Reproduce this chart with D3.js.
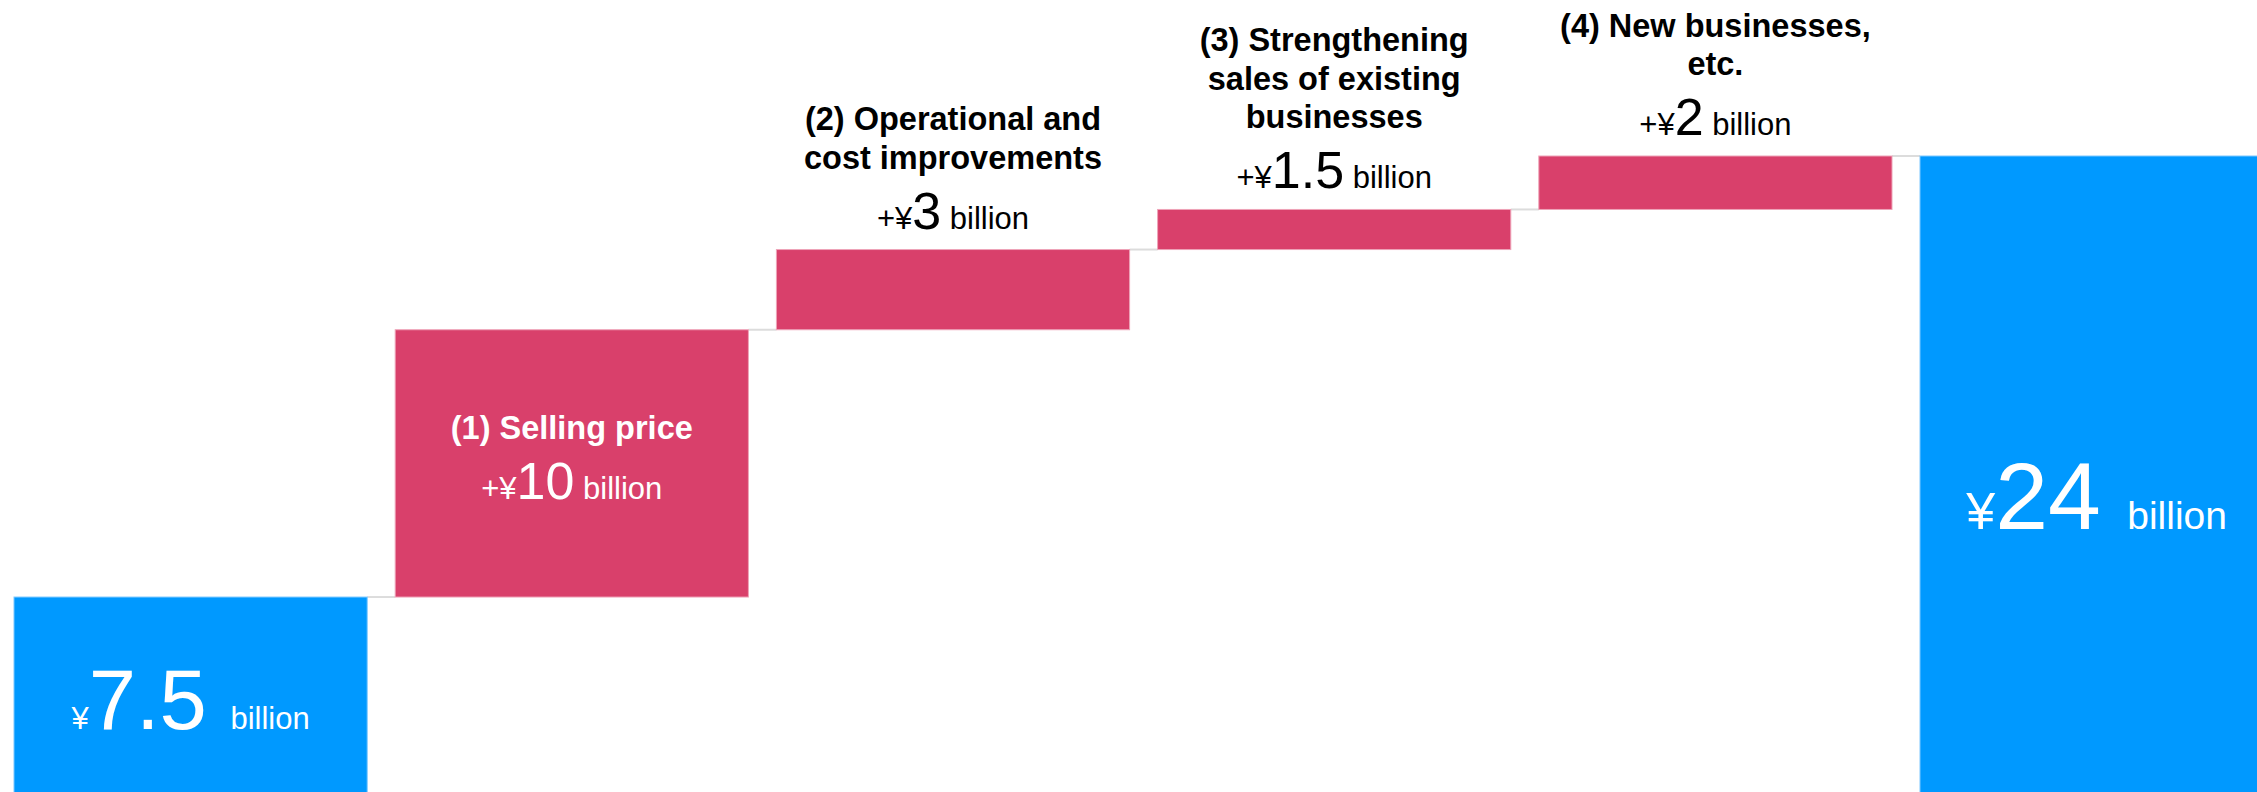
<!DOCTYPE html>
<html>
<head>
<meta charset="utf-8">
<script src="https://cdn.jsdelivr.net/npm/d3@7"></script>
<style>
  body { margin: 0; background: #fff; }
  svg { display: block; font-family: "Liberation Sans", Arial, sans-serif; }
</style>
</head>
<body>
<div id="chart"></div>
<script>
// waterfall data
var steps = ["FY start", "(1)", "(2)", "(3)", "(4)", "Target"];
var kinds = ["total", "delta", "delta", "delta", "delta", "total"];
var values = [7.5, 10, 3, 1.5, 2, 24];
var titles = [
  [],
  ["(1) Selling price"],
  ["(2) Operational and", "cost improvements"],
  ["(3) Strengthening", "sales of existing", "businesses"],
  ["(4) New businesses,", "etc."],
  []
];
var unit = "billion";

var width = 2257, height = 792;

var svg = d3.select("#chart")
  .append("svg")
  .attr("width", width)
  .attr("height", height);

// running start / end of each bar
var rows = [];
var run = 0;
values.forEach(function (v, i) {
  var r = { i: i, key: steps[i], kind: kinds[i], value: v, titles: titles[i] };
  if (kinds[i] == "total") {
    r.y0 = 0; r.y1 = v; run = v;
  } else {
    r.y0 = run; r.y1 = run + v; run = run + v;
  }
  rows.push(r);
});

var step = 381.2, pad = 28;
var x = d3.scaleBand()
  .domain(steps)
  .range([14, 14 + step * steps.length - pad])
  .paddingInner(pad / step)
  .paddingOuter(0);

var y = d3.scaleLinear()
  .domain([0, 24])
  .range([797.5, 156]);

var blue = "#0099ff", red = "#d9406b";

// connectors
svg.append("g")
  .selectAll("line")
  .data(rows.slice(0, -1))
  .enter().append("line")
  .attr("x1", function (d) { return x(d.key) + x.bandwidth(); })
  .attr("x2", function (d) { return x(steps[d.i + 1]); })
  .attr("y1", function (d) { return y(d.y1); })
  .attr("y2", function (d) { return y(d.y1); })
  .attr("stroke", "#dcdcdc")
  .attr("stroke-width", 2);

// bars
svg.append("g")
  .selectAll("rect")
  .data(rows)
  .enter().append("rect")
  .attr("x", function (d) { return x(d.key); })
  .attr("y", function (d) { return y(d.y1); })
  .attr("width", x.bandwidth())
  .attr("height", function (d) { return y(d.y0) - y(d.y1); })
  .attr("fill", function (d) { return d.kind == "total" ? blue : red; })
  .attr("stroke", function (d) { return d.kind == "total" ? "#7cc8ff" : "#eea3b8"; })
  .attr("stroke-width", 1);

// total labels
var totalStyle = [
  { yen: 31, num: 85, unit: 31, off: 32 },
  { yen: 52, num: 95, unit: 39, off: 52 }
];
var totals = rows.filter(function (d) { return d.kind == "total"; });
totals.forEach(function (d, k) {
  var s = totalStyle[k];
  var t = svg.append("text")
    .attr("x", x(d.key) + x.bandwidth() / 2)
    .attr("y", (y(d.y0) + y(d.y1)) / 2 + s.off)
    .attr("text-anchor", "middle")
    .attr("fill", "#fff");
  t.append("tspan").style("font-size", s.yen + "px").text("¥");
  t.append("tspan").style("font-size", s.num + "px").text(d.value + " ");
  t.append("tspan").style("font-size", s.unit + "px").text(unit);
});

// delta labels
var deltas = rows.filter(function (d) { return d.kind == "delta"; });
deltas.forEach(function (d) {
  var cx = x(d.key) + x.bandwidth() / 2;
  var inside = (y(d.y0) - y(d.y1)) > 150;
  var valueY, color;
  if (inside) {
    valueY = (y(d.y0) + y(d.y1)) / 2 + 36;
    color = "#fff";
  } else {
    valueY = y(d.y1) - 21;
    color = "#000";
  }
  var v = svg.append("text")
    .attr("x", cx)
    .attr("y", valueY)
    .attr("text-anchor", "middle")
    .attr("fill", color);
  v.append("tspan").style("font-size", "31px").text("+¥");
  v.append("tspan").style("font-size", "52px").text(d.value);
  v.append("tspan").style("font-size", "31px").text(" " + unit);

  var n = d.titles.length;
  svg.append("g")
    .selectAll("text")
    .data(d.titles)
    .enter().append("text")
    .attr("x", cx)
    .attr("y", function (line, j) { return valueY - 60 - (n - 1 - j) * 38.5; })
    .attr("text-anchor", "middle")
    .attr("fill", color)
    .style("font-size", "32.5px")
    .style("font-weight", "bold")
    .text(function (line) { return line; });
});
</script>
</body>
</html>
